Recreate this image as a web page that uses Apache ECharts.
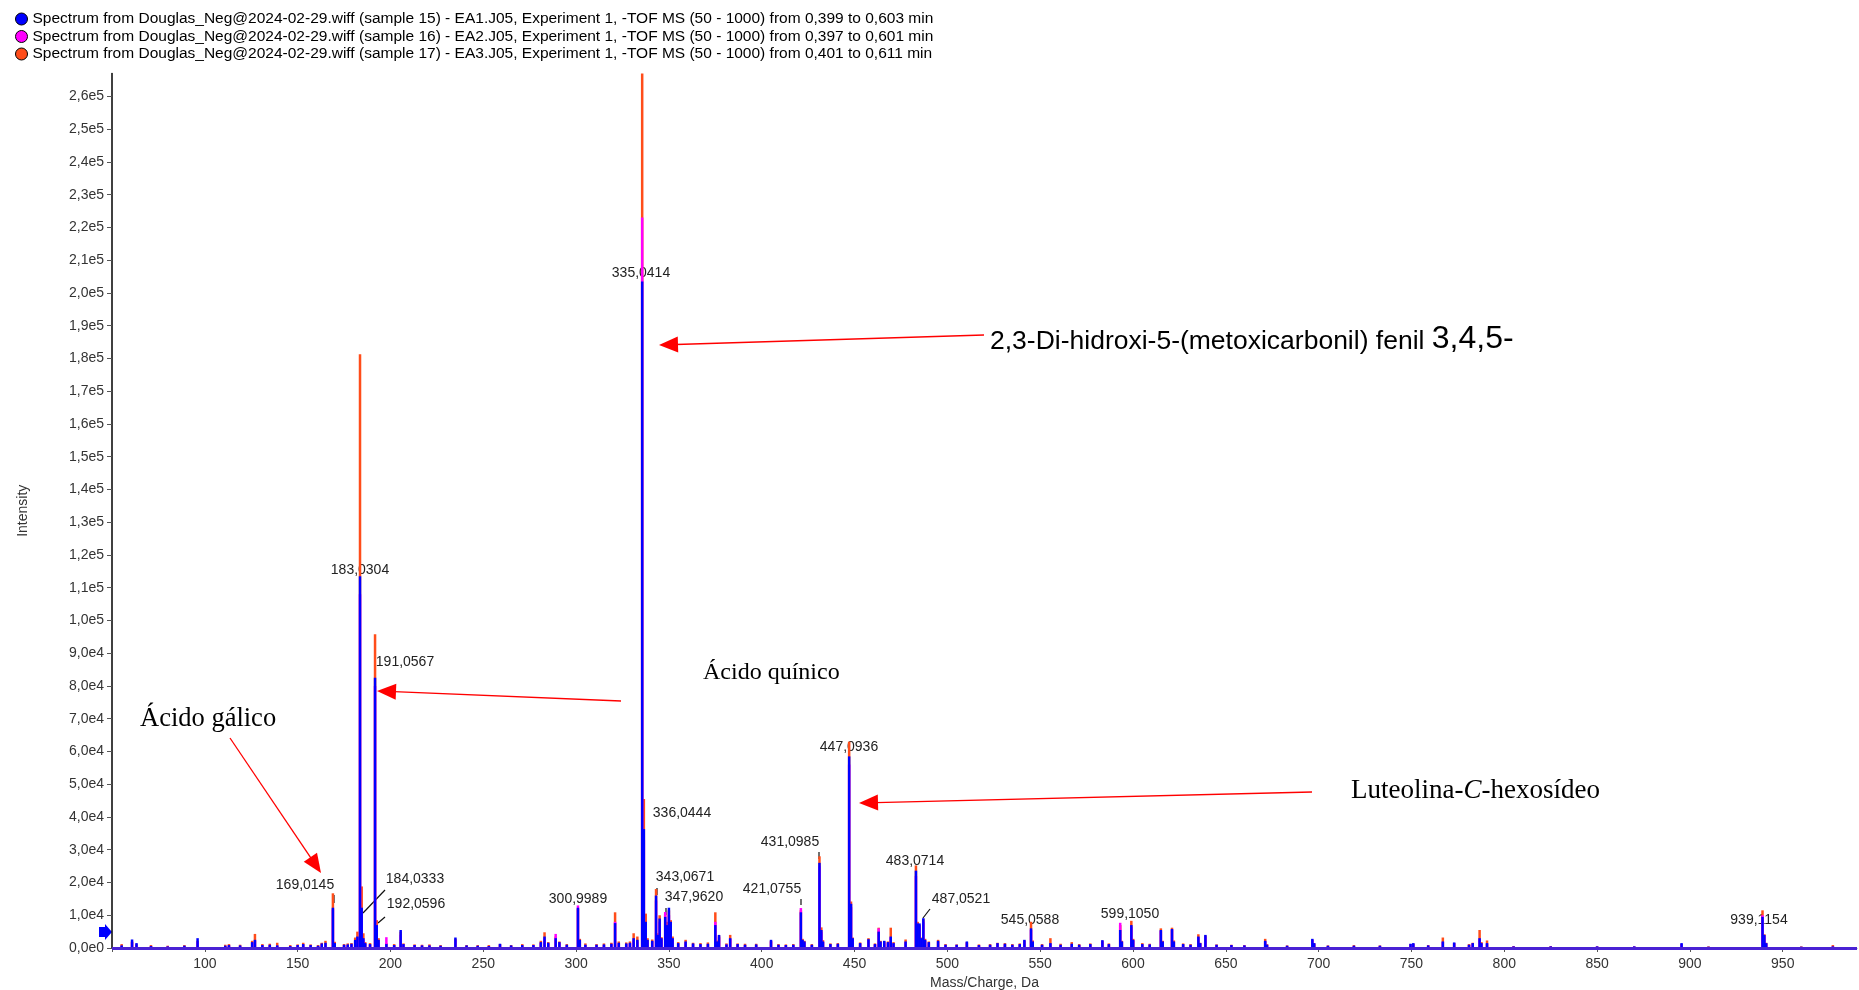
<!DOCTYPE html>
<html>
<head>
<meta charset="utf-8">
<script src="https://cdn.jsdelivr.net/npm/echarts@6/dist/echarts.min.js"></script>
<style>
html,body{margin:0;padding:0;background:#fff;}
#c{width:1859px;height:990px;}
</style>
</head>
<body>
<div id="c"></div>
<script>
// ---------- DATA ----------
const seriesNames = [
  'Spectrum from Douglas_Neg@2024-02-29.wiff (sample 15) - EA1.J05, Experiment 1, -TOF MS (50 - 1000) from 0,399 to 0,603 min',
  'Spectrum from Douglas_Neg@2024-02-29.wiff (sample 16) - EA2.J05, Experiment 1, -TOF MS (50 - 1000) from 0,397 to 0,601 min',
  'Spectrum from Douglas_Neg@2024-02-29.wiff (sample 17) - EA3.J05, Experiment 1, -TOF MS (50 - 1000) from 0,401 to 0,611 min'
];

const mz = [
  55.2, 60.8, 63.2, 71.0, 80.0, 89.0, 96.1, 111.0, 113.0, 119.0,
  125.5, 127.0, 131.0, 135.0, 139.0, 146.0, 150.0, 153.0, 157.0, 161.0,
  163.0, 165.0, 169.0, 170.0, 175.0, 177.0, 179.0, 181.0, 182.2, 183.6,
  184.5, 185.4, 186.4, 189.0, 191.7, 192.6, 193.6, 197.8, 202.0, 205.5,
  207.0, 213.0, 217.0, 221.0, 227.0, 235.0, 241.0, 247.0, 253.0, 259.0,
  265.0, 271.0, 277.0, 281.0, 283.0, 285.0, 289.0, 291.0, 295.0, 301.0,
  302.0, 305.0, 311.0, 315.0, 319.0, 321.0, 323.0, 327.0, 329.0, 331.0,
  333.0, 335.6, 336.5, 337.5, 338.5, 341.0, 343.07, 344.0, 345.0, 346.0,
  348.0, 349.0, 350.0, 351.0, 352.0, 355.0, 359.0, 363.0, 367.0, 371.0,
  375.0, 376.0, 377.0, 381.0, 383.0, 387.0, 391.0, 397.0, 405.0, 409.0,
  413.0, 417.0, 421.08, 422.0, 423.0, 427.0, 431.1, 432.1, 433.0, 437.0,
  441.0, 447.09, 448.1, 449.0, 453.0, 457.5, 461.0, 463.0, 464.0, 466.0,
  468.0, 469.5, 471.0, 477.5, 483.07, 484.0, 485.0, 486.0, 487.05, 488.0,
  490.0, 495.0, 499.0, 505.0, 510.5, 517.0, 523.0, 527.0, 531.0, 535.0,
  539.0, 541.5, 545.06, 546.0, 551.0, 555.5, 561.0, 567.0, 571.0, 577.0,
  583.5, 587.0, 593.1, 594.0, 599.1, 600.1, 605.0, 609.0, 615.0, 616.0,
  621.0, 622.0, 627.0, 631.0, 635.2, 636.2, 639.0, 645.0, 653.0, 660.0,
  671.2, 672.2, 683.0, 696.6, 697.6, 705.0, 719.0, 733.0, 749.5, 751.0,
  759.0, 766.9, 773.0, 781.0, 783.0, 786.7, 787.7, 790.7, 805.0, 825.0,
  850.0, 870.0, 895.5, 910.0, 939.1, 940.1, 941.1, 960.0, 977.0
];

const sample15 = [
  800, 2600, 1500, 600, 500, 700, 3000, 700, 900, 800,
  1800, 2500, 900, 1000, 800, 600, 900, 1200, 900, 700,
  1400, 1600, 12300, 1500, 1000, 1100, 1300, 2500, 3500, 113500,
  12300, 3000, 1500, 1200, 82500, 7000, 2500, 1200, 900, 5500,
  1200, 900, 800, 800, 700, 3200, 800, 700, 600, 1300,
  800, 900, 900, 1800, 3500, 1600, 3000, 1800, 1000, 12300,
  2500, 1000, 1000, 1100, 1300, 7600, 1600, 1400, 1600, 3000,
  2500, 203500, 36300, 8000, 2500, 2200, 16000, 4000, 9000, 3000,
  9500, 7000, 12300, 8000, 3000, 1500, 2000, 1400, 1200, 1300,
  7000, 2000, 4000, 1100, 3000, 1200, 1000, 1100, 2500, 1000,
  900, 1000, 10900, 2500, 2000, 1000, 26000, 5500, 2000, 1200,
  1300, 58500, 13500, 3000, 1500, 2700, 1200, 5000, 2000, 2200,
  1800, 3500, 1500, 2000, 23600, 7500, 7500, 3000, 9100, 2500,
  1800, 2200, 1000, 1000, 2000, 900, 1000, 1500, 1300, 1000,
  1200, 2500, 6000, 2000, 1000, 1500, 1000, 1300, 1000, 1200,
  2400, 1200, 5500, 2000, 7000, 2500, 1200, 1100, 5500, 2000,
  5800, 2000, 1200, 1000, 3500, 1500, 4000, 1000, 900, 800,
  2200, 1000, 700, 2800, 1500, 700, 700, 700, 1300, 1500,
  800, 2000, 1700, 1000, 1500, 3000, 1500, 1500, 500, 500,
  500, 500, 1500, 400, 9500, 4000, 1500, 400, 500
];

const sample16 = [
  600, 1800, 1000, 500, 400, 500, 1800, 600, 700, 600,
  1500, 2200, 800, 800, 700, 500, 800, 1000, 700, 600,
  1200, 1300, 11800, 1300, 800, 900, 1000, 2200, 3000, 108000,
  11500, 2500, 1200, 1000, 80000, 6500, 2000, 3300, 800, 4000,
  1000, 800, 700, 700, 600, 2500, 600, 600, 500, 1000,
  600, 700, 800, 1500, 3000, 1200, 4300, 1500, 800, 13000,
  2000, 900, 800, 900, 1200, 8000, 1400, 1200, 1400, 2500,
  2000, 223000, 33000, 7000, 2000, 2000, 14500, 3500, 8000, 2500,
  11000, 6500, 10000, 7000, 2500, 1300, 1700, 1200, 1000, 1100,
  8000, 1800, 3300, 1000, 2800, 1000, 900, 900, 2000, 900,
  800, 900, 12200, 2200, 1700, 900, 25000, 5000, 1800, 1000,
  1100, 56000, 12500, 2500, 1300, 2400, 1000, 6000, 1800, 1800,
  1500, 3200, 1300, 1800, 22000, 7000, 6500, 2500, 8000, 2200,
  1500, 1900, 900, 900, 1600, 800, 900, 1200, 1100, 900,
  1000, 2200, 5500, 1800, 900, 1300, 900, 1100, 900, 1000,
  2000, 1000, 7700, 1800, 6500, 2200, 1000, 1000, 5200, 1800,
  5500, 1800, 1000, 900, 3300, 1300, 3500, 900, 800, 700,
  2000, 900, 600, 2500, 1300, 600, 600, 600, 1100, 1200,
  700, 1800, 1500, 900, 1300, 2800, 1300, 1300, 400, 400,
  400, 400, 1200, 300, 10000, 3600, 1300, 300, 400
];

const sample17 = [
  1200, 2000, 1200, 900, 700, 900, 2200, 1000, 1200, 1000,
  2200, 4300, 1200, 1300, 1600, 900, 1100, 1600, 1100, 900,
  1600, 2200, 16700, 1900, 1200, 1400, 1500, 3200, 5000, 181300,
  18800, 4500, 1800, 1500, 95800, 8500, 3000, 1500, 1200, 5000,
  1400, 1100, 1000, 1100, 900, 2800, 900, 900, 900, 1200,
  900, 1200, 1100, 2200, 4800, 1800, 3500, 2000, 1200, 12000,
  2800, 1400, 1200, 1400, 1600, 10900, 2000, 1700, 2000, 4500,
  3500, 267000, 45500, 10500, 3000, 2600, 18000, 4500, 10000, 3300,
  10500, 8000, 11500, 8500, 3500, 1800, 2500, 1600, 1500, 1700,
  10900, 2300, 3800, 1400, 4000, 1400, 1300, 1300, 2200, 1200,
  1100, 1200, 11500, 2800, 2200, 1200, 28000, 6300, 2400, 1400,
  1500, 63000, 14200, 3200, 1700, 3000, 1400, 6200, 2200, 2000,
  2000, 6200, 1800, 2600, 25200, 8000, 7000, 3200, 8800, 2800,
  2000, 2500, 1200, 1100, 1800, 1100, 1200, 1600, 1500, 1200,
  1400, 2300, 8000, 2300, 1200, 3000, 1300, 1800, 1200, 1400,
  2200, 1400, 7000, 2200, 8300, 2800, 1500, 1300, 6000, 2200,
  6200, 2300, 1400, 1200, 4200, 1600, 3800, 1100, 1000, 900,
  2800, 1200, 800, 2500, 1400, 800, 900, 800, 1200, 1300,
  900, 3200, 1500, 1200, 1600, 5500, 1800, 2300, 600, 600,
  500, 500, 1200, 500, 11500, 4200, 1600, 500, 900
];

const xTickValues = [50,100,150,200,250,300,350,400,450,500,550,600,650,700,750,800,850,900,950];
const xLabelValues = [100,150,200,250,300,350,400,450,500,550,600,650,700,750,800,850,900,950];
const yTickValues = [0,10000,20000,30000,40000,50000,60000,70000,80000,90000,100000,110000,120000,130000,
  140000,150000,160000,170000,180000,190000,200000,210000,220000,230000,240000,250000,260000];

const peakLabels = ['169,0145','183,0304','184,0333','191,0567','192,0596','300,9989','335,0414','336,0444',
  '343,0671','347,9620','421,0755','431,0985','447,0936','483,0714','487,0521','545,0588','599,1050','939,1154'];

const annotations = ['Ácido gálico', 'Ácido quínico', '2,3-Di-hidroxi-5-(metoxicarbonil) fenil ', '3,4,5-', 'Luteolina-', 'C', '-hexosídeo'];

// ---------- LAYOUT / STYLE ----------
const colors = ['#0000ff', '#ff00ff', '#ff4d1a'];
const labelPos = [ // pixel centers for peak labels (same order as peakLabels)
  [305,885],[360,570],[415,879],[405,662],[416,904],[578,899],[641,273],[682,813],
  [685,877],[694,897],[772,889],[790,842],[849,747],[915,861],[961,899],[1030,920],[1130,914],[1759,920]
];
const leaderLines = [
  [334,895,334,903],[375,666,375,676],[657,888,657,895],[666,908,666,915],[801,899,801,905],[819,852,819,859],
  [363,913,385,890],[378,923,385,917],[923,918,930,909]
];

function fmtY(v){
  if (v === 0) return '0,0e0';
  let e = Math.floor(Math.log10(v) + 1e-9);
  let m = v / Math.pow(10, e);
  return m.toFixed(1).replace('.', ',') + 'e' + e;
}

function arrow(x1,y1,x2,y2){
  const dx=x2-x1, dy=y2-y1, L=Math.hypot(dx,dy), ux=dx/L, uy=dy/L;
  const hl=19, hw=8;
  const bx=x2-ux*hl, by=y2-uy*hl;
  return [
    {type:'line', silent:true, shape:{x1:x1,y1:y1,x2:bx+ux*2,y2:by+uy*2}, style:{stroke:'#ff0000', lineWidth:1.3}},
    {type:'polygon', silent:true, shape:{points:[[x2,y2],[bx-uy*hw,by+ux*hw],[bx+uy*hw,by-ux*hw]]}, style:{fill:'#ff0000'}}
  ];
}

const graphics = [];
peakLabels.forEach((t,i)=>{
  graphics.push({type:'text', silent:true, x:labelPos[i][0], y:labelPos[i][1],
    style:{text:t, fill:'#222', font:'14px "Liberation Sans", Arial, sans-serif', textAlign:'center', textVerticalAlign:'middle'}});
});
leaderLines.forEach(l=>{
  graphics.push({type:'line', silent:true, shape:{x1:l[0],y1:l[1],x2:l[2],y2:l[3]}, style:{stroke:'#111', lineWidth:1.2}});
});
graphics.push(...arrow(230,738,321,873));
graphics.push(...arrow(621,701,377,691));
graphics.push(...arrow(984,335,659,345));
graphics.push(...arrow(1312,792,859,803));
graphics.push({type:'text', silent:true, x:140, y:719, style:{text:annotations[0], fill:'#000', font:'26.5px "Liberation Serif", "Times New Roman", serif', textVerticalAlign:'middle'}});
graphics.push({type:'text', silent:true, x:703, y:673, style:{text:annotations[1], fill:'#000', font:'24px "Liberation Serif", "Times New Roman", serif', textVerticalAlign:'middle'}});
graphics.push({type:'text', silent:true, x:990, y:339, style:{
  text:'{a|'+annotations[2]+'}{b|'+annotations[3]+'}', textVerticalAlign:'middle',
  rich:{a:{fontFamily:'Liberation Sans', fontSize:26.5, fill:'#000', color:'#000', verticalAlign:'bottom'},
        b:{fontFamily:'Liberation Sans', fontSize:32, fill:'#000', color:'#000', verticalAlign:'bottom'}}}});
graphics.push({type:'text', silent:true, x:1351, y:791, style:{
  text:'{s|'+annotations[4]+'}{i|'+annotations[5]+'}{s|'+annotations[6]+'}', textVerticalAlign:'middle',
  rich:{s:{fontFamily:'Liberation Serif', fontSize:27, color:'#000', fill:'#000'},
        i:{fontFamily:'Liberation Serif', fontSize:27, fontStyle:'italic', color:'#000', fill:'#000'}}}});
// small blue marker arrow at the y axis
graphics.push({type:'polygon', silent:true, shape:{points:[[99,927],[105,927],[105,924],[112,932],[105,940],[105,937],[99,937]]}, style:{fill:'#0000ff'}});

const pairs = arr => mz.map((m,i)=>[m, arr[i]]);
const sampleData = [sample15, sample16, sample17];

const series = [2,1,0].map(k => ({
  name: seriesNames[k],
  type: 'bar',
  data: pairs(sampleData[k]),
  barWidth: 2.5,
  barGap: '-100%',
  itemStyle: {color: colors[k]},
  z: 4 - k,
  silent: true,
  markLine: k === 0 ? {
    silent:true, symbol:'none', label:{show:false},
    lineStyle:{color:'#4a22d4', width:3, type:'solid'},
    data:[{yAxis:0}]
  } : undefined
}));

const chart = echarts.init(document.getElementById('c'), null, {renderer:'canvas'});
chart.setOption({
  animation:false,
  backgroundColor:'#ffffff',
  textStyle:{fontFamily:'"Liberation Sans", Arial, sans-serif'},
  legend:{
    orient:'vertical', left:10, top:6, itemWidth:12, itemHeight:12, itemGap:1.5,
    icon:'circle', selectedMode:false,
    data: seriesNames.map((n,k)=>({name:n, itemStyle:{color:colors[k], borderColor:'#000', borderWidth:1}})),
    textStyle:{fontFamily:'"Liberation Sans", Arial, sans-serif', fontSize:15.5, color:'#000', padding:[0,0,0,0]}
  },
  grid:{left:112, right:2, top:73.5, bottom:42, containLabel:false, outerBoundsMode:'none'},
  xAxis:{
    type:'value', min:50, max:990, interval:50,
    name:'Mass/Charge, Da', nameLocation:'middle', nameGap:28,
    nameTextStyle:{fontSize:14, color:'#333'},
    axisLine:{show:true, onZero:false, lineStyle:{color:'#777', width:1}},
    axisTick:{show:true, length:4, customValues:xTickValues, lineStyle:{color:'#555'}},
    minorTick:{show:true, splitNumber:5, length:2, lineStyle:{color:'#888'}},
    axisLabel:{customValues:xLabelValues, fontSize:14, color:'#333', margin:9},
    splitLine:{show:false}
  },
  yAxis:{
    type:'value', min:0, max:267000, interval:10000,
    name:'Intensity', nameLocation:'middle', nameGap:82,
    nameTextStyle:{fontSize:14, color:'#333'},
    axisLine:{show:true, lineStyle:{color:'#000', width:1.5}},
    axisTick:{show:true, length:5, customValues:yTickValues, lineStyle:{color:'#555'}},
    axisLabel:{customValues:yTickValues, formatter:fmtY, fontSize:14, color:'#333', margin:8},
    splitLine:{show:false}
  },
  series: series,
  graphic: graphics
});
</script>
</body>
</html>
